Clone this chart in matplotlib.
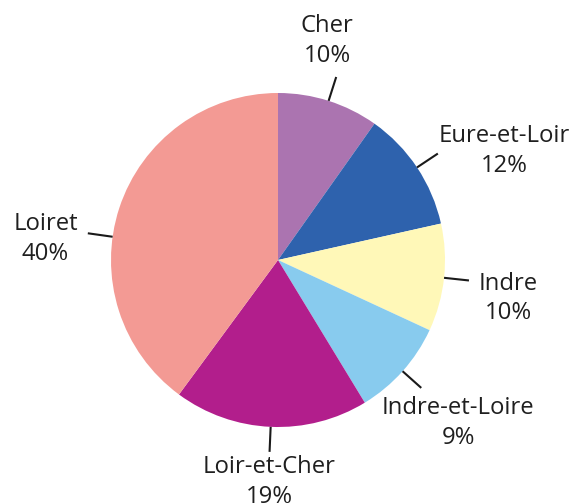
import numpy as np
import matplotlib
matplotlib.use('Agg')
import matplotlib.pyplot as plt

plt.rcParams['font.family'] = ['Open Sans', 'DejaVu Sans']

departements = ['Cher', 'Eure-et-Loir', 'Indre', 'Indre-et-Loire', 'Loir-et-Cher', 'Loiret']
parts = [9.8, 11.7, 10.4, 9.4, 18.8, 39.9]
couleurs = ['#ab74b0', '#2e62ad', '#fff8b8', '#88cbee', '#b21e8c', '#f39a94']

# placement des etiquettes : (ha, va, decalage x px, decalage y px)
placement = [
    ('center', 'bottom', -9, 9),
    ('left', 'center', 1, 3),
    ('left', 'center', 10, -18),
    ('center', 'top', 37, -8),
    ('center', 'top', 0, -3),
    ('right', 'center', -10, -6),
]
angle_force = {'Loiret': 172}

fig = plt.figure(figsize=(5.72, 5.03), dpi=100)
ax = fig.add_axes([0, 0, 1, 1])

wedges, _ = ax.pie(parts, colors=couleurs, startangle=90, counterclock=False,
                   radius=1.0, center=(0, 0))

for w, nom, p, (ha, va, dx, dy) in zip(wedges, departements, parts, placement):
    ang = angle_force.get(nom, (w.theta1 + w.theta2) / 2)
    a = np.deg2rad(ang)
    x0, y0 = np.cos(a) * 1.0, np.sin(a) * 1.0
    x1, y1 = np.cos(a) * 1.15, np.sin(a) * 1.15
    ax.plot([x0, x1], [y0, y1], color='#1a1a1a', lw=1.5, solid_capstyle='butt')
    ax.annotate(f'{nom}\n{round(p)}%', xy=(x1, y1), xytext=(dx, dy),
                textcoords='offset pixels', ha=ha, va=va, multialignment='center',
                fontsize=17.2, color='#1f1f1f', linespacing=1.33)

ax.set_xlim(-278 / 167, (572 - 278) / 167)
ax.set_ylim(-(503 - 260) / 167, 260 / 167)
ax.set_aspect('equal')
ax.axis('off')

fig.savefig('out.png', dpi=100)
